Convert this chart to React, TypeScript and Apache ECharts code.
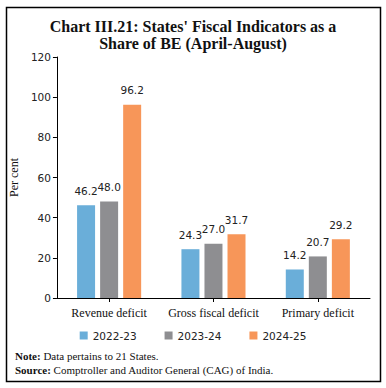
import React, { useEffect, useRef } from "react";
import * as echarts from "echarts";

const categories = ["Revenue deficit", "Gross fiscal deficit", "Primary deficit"];
const seriesNames = ["2022-23", "2023-24", "2024-25"];
const values2223 = [46.2, 24.3, 14.2];
const values2324 = [48.0, 27.0, 20.7];
const values2425 = [96.2, 31.7, 29.2];
const colors = ["#6AAED9", "#8E8E91", "#F79659"];
const titleLines = ["Chart III.21: States' Fiscal Indicators as a", "Share of BE (April-August)"];

export default function App() {
  const ref = useRef<HTMLDivElement>(null);
  useEffect(() => {
    document.body.style.margin = "0";
    const chart = echarts.init(ref.current!, null, { renderer: "svg" });
    const data = [values2223, values2324, values2425];
    const serif = "'Liberation Serif', 'DejaVu Serif', serif";
    const sans = "'DejaVu Sans', sans-serif";
    chart.setOption({
      animation: false,
      backgroundColor: "#ffffff",
      textStyle: { fontFamily: sans },
      title: {
        text: titleLines.join("\n"),
        left: "center",
        top: 13,
        textStyle: { fontFamily: serif, fontWeight: "bold", fontSize: 16, lineHeight: 17, color: "#111" },
      },
      grid: { left: 51, right: 16, top: 57, bottom: 90 },
      legend: {
        data: seriesNames,
        bottom: 42,
        left: "center",
        itemWidth: 8,
        itemHeight: 8,
        itemGap: 28,
        icon: "rect",
        textStyle: { fontFamily: sans, fontSize: 10.5, color: "#222" },
      },
      xAxis: {
        type: "category",
        data: categories,
        axisLine: { lineStyle: { color: "#000", width: 1 } },
        axisTick: { show: true, alignWithLabel: true, length: 4, lineStyle: { color: "#000" } },
        axisLabel: { interval: 0, fontFamily: serif, fontSize: 12, color: "#111", margin: 9 },
      },
      yAxis: {
        type: "value",
        min: 0,
        max: 120,
        interval: 20,
        name: "Per cent",
        nameLocation: "middle",
        nameGap: 25,
        nameTextStyle: { fontFamily: serif, fontSize: 12, color: "#111" },
        axisLine: { show: true, lineStyle: { color: "#000", width: 1 } },
        axisTick: { show: true, length: 4, lineStyle: { color: "#000" } },
        axisLabel: { fontFamily: sans, fontSize: 10.5, color: "#222", margin: 6 },
        splitLine: { show: false },
      },
      series: seriesNames.map((name, i) => ({
        name,
        type: "bar",
        data: data[i],
        barWidth: 18,
        barGap: "28%",
        itemStyle: { color: colors[i] },
        label: {
          show: true,
          position: "top",
          distance: 9,
          formatter: (p: any) => Number(p.value).toFixed(1),
          fontFamily: sans,
          fontSize: 10.5,
          color: "#222",
        },
      })),
      graphic: [
        {
          type: "rect",
          shape: { x: 6.5, y: 7.5, width: 374, height: 374 },
          style: { fill: "none", stroke: "#000", lineWidth: 1.5 },
          silent: true,
        },
        {
          type: "text",
          left: 15,
          top: 350,
          style: {
            text: "{b|Note:} Data pertains to 21 States.",
            rich: { b: { fontWeight: "bold", fontFamily: serif, fontSize: 11, fill: "#111" } },
            font: `11px ${serif}`,
            fill: "#111",
          },
        },
        {
          type: "text",
          left: 15,
          top: 364,
          style: {
            text: "{b|Source:} Comptroller and Auditor General (CAG) of India.",
            rich: { b: { fontWeight: "bold", fontFamily: serif, fontSize: 11, fill: "#111" } },
            font: `11px ${serif}`,
            fill: "#111",
          },
        },
      ],
    });
    return () => chart.dispose();
  }, []);
  return <div ref={ref} style={{ width: 386, height: 388 }} />;
}
